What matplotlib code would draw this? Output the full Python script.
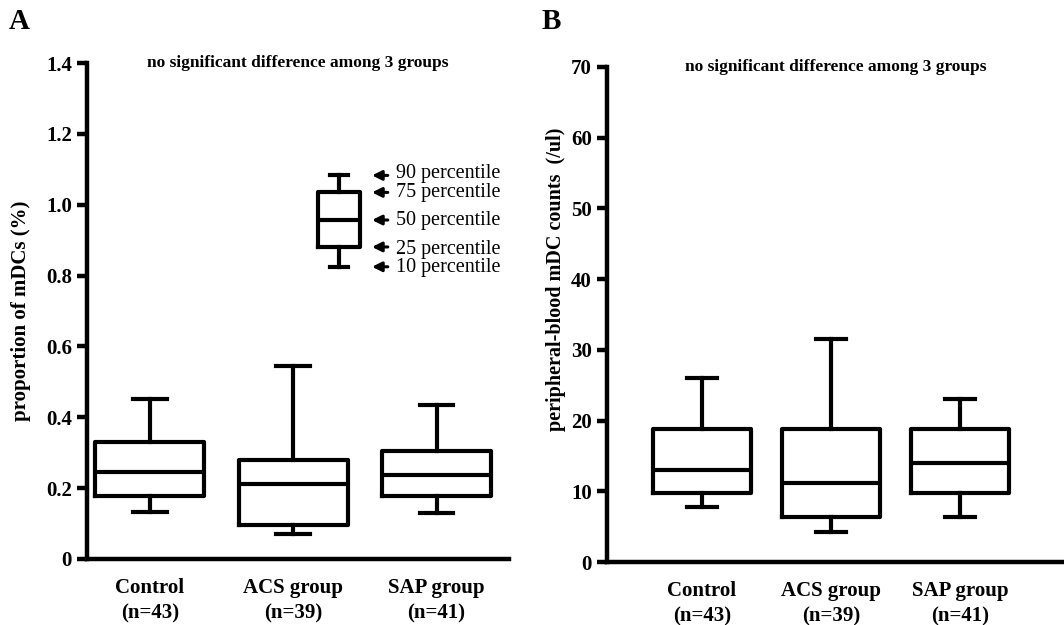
import numpy as np
import matplotlib
matplotlib.use('Agg')
import matplotlib.pyplot as plt

plt.rcParams['font.family'] = ['Liberation Serif', 'DejaVu Serif']
plt.rcParams['font.weight'] = 'bold'

groups = ['Control\n(n=43)', 'ACS group\n(n=39)', 'SAP group\n(n=41)']

# panel A: proportion of mDCs (%)  -> 10, 25, 50, 75, 90 percentile
a_p10 = [0.134, 0.070, 0.129]
a_p25 = [0.179, 0.095, 0.179]
a_p50 = [0.246, 0.213, 0.238]
a_p75 = [0.330, 0.280, 0.305]
a_p90 = [0.453, 0.545, 0.436]

# panel B: peripheral-blood mDC counts (/ul)
b_p10 = [7.8, 4.2, 6.4]
b_p25 = [9.8, 6.4, 9.8]
b_p50 = [13.0, 11.2, 14.0]
b_p75 = [18.8, 18.8, 18.8]
b_p90 = [26.0, 31.5, 23.1]

# example box for the key
key_vals = [0.825, 0.881, 0.957, 1.035, 1.083]
key_labels = ['10 percentile', '25 percentile', '50 percentile', '75 percentile', '90 percentile']

a_ticks = [0, 0.2, 0.4, 0.6, 0.8, 1.0, 1.2, 1.4]
a_ticklabels = ['0', '0.2', '0.4', '0.6', '0.8', '1.0', '1.2', '1.4']
b_ticks = [0, 10, 20, 30, 40, 50, 60, 70]

LW = 3.0


def make_stats(p10, p25, p50, p75, p90):
    return [dict(whislo=lo, q1=q1, med=m, q3=q3, whishi=hi, fliers=[])
            for lo, q1, m, q3, hi in zip(p10, p25, p50, p75, p90)]


def draw_boxes(ax, stats, pos, width, capw):
    ax.bxp(stats, positions=pos, widths=width, showfliers=False,
           capwidths=capw,
           boxprops=dict(color='black', linewidth=LW),
           medianprops=dict(color='black', linewidth=LW),
           whiskerprops=dict(color='black', linewidth=LW),
           capprops=dict(color='black', linewidth=LW),
           manage_ticks=False)


def style_axes(ax):
    for s in ['top', 'right']:
        ax.spines[s].set_visible(False)
    for s in ['left', 'bottom']:
        ax.spines[s].set_linewidth(3.2)
    ax.tick_params(axis='y', width=3.2, length=7, labelsize=15, pad=4)
    ax.tick_params(axis='x', length=0, labelsize=15, pad=14)
    for lab in ax.get_xticklabels() + ax.get_yticklabels():
        lab.set_fontweight('bold')
    for lab in ax.get_xticklabels():
        lab.set_linespacing(1.35)


fig = plt.figure(figsize=(10.64, 6.25), dpi=100)

# ---- panel A
axA = fig.add_axes([0.0818, 0.1056, 0.397, 0.7934])
draw_boxes(axA, make_stats(a_p10, a_p25, a_p50, a_p75, a_p90), [1, 2, 3], 0.76, 0.235)
kstats = make_stats([key_vals[0]], [key_vals[1]], [key_vals[2]], [key_vals[3]], [key_vals[4]])
draw_boxes(axA, kstats, [2.32], 0.29, 0.12)
label_y = [0.823, 0.875, 0.955, 1.035, 1.087]
for v, ly, lab in zip(key_vals, label_y, key_labels):
    axA.annotate('', xy=(2.55, v), xytext=(2.66, v),
                 arrowprops=dict(arrowstyle='-|>', color='black', lw=2.2,
                                 mutation_scale=14, shrinkA=0, shrinkB=0))
    axA.text(2.72, ly, lab, fontsize=14.5, fontweight='normal', va='center', ha='left')
axA.set_xlim(0.561, 3.509)
axA.set_ylim(0, 1.4)
axA.set_yticks(a_ticks)
axA.set_yticklabels(a_ticklabels)
axA.set_xticks([1, 2, 3])
axA.set_xticklabels(groups)
axA.set_ylabel('proportion of mDCs (%)', fontsize=15, fontweight='bold')
axA.yaxis.set_label_coords(-0.133, 0.5)
style_axes(axA)
axA.text(0.5, 1.0, 'no significant difference among 3 groups', transform=axA.transAxes,
         ha='center', va='center', fontsize=12.5, fontweight='bold')

# ---- panel B
axB = fig.add_axes([0.5705, 0.1008, 0.4295, 0.7922])
draw_boxes(axB, make_stats(b_p10, b_p25, b_p50, b_p75, b_p90), [1, 2, 3], 0.76, 0.235)
axB.set_xlim(0.264, 3.806)
axB.set_ylim(0, 70)
axB.set_yticks(b_ticks)
axB.set_xticks([1, 2, 3])
axB.set_xticklabels(groups)
axB.set_ylabel('peripheral-blood mDC counts  (/ul)', fontsize=14.5, fontweight='bold')
axB.yaxis.set_label_coords(-0.09, 0.57)
style_axes(axB)
axB.text(0.5, 1.0, 'no significant difference among 3 groups', transform=axB.transAxes,
         ha='center', va='center', fontsize=12.5, fontweight='bold')

fig.text(0.008, 0.965, 'A', fontsize=21, fontweight='bold', va='center')
fig.text(0.509, 0.965, 'B', fontsize=21, fontweight='bold', va='center')

fig.savefig('out.png', dpi=100)
